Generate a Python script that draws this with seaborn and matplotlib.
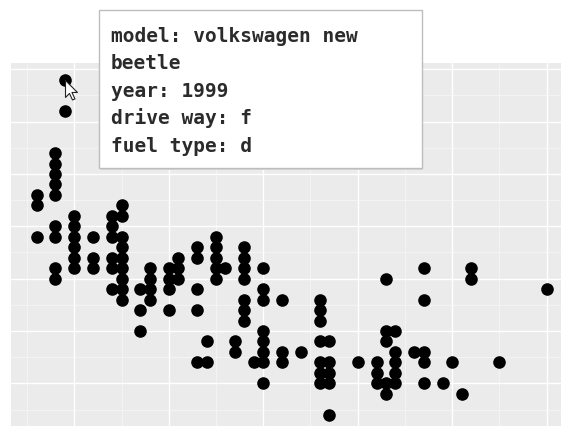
import numpy as np
import pandas as pd
import seaborn as sns
import matplotlib.pyplot as plt
from matplotlib.path import Path
from matplotlib.patches import Rectangle

# engine displacement (litres) and highway mpg, one entry per visible dot
displ = [1.6, 1.6, 1.6,
         1.8, 1.8, 1.8, 1.8, 1.8, 1.8, 1.8, 1.8, 1.8,
         1.9, 1.9,
         2.0, 2.0, 2.0, 2.0, 2.0, 2.0,
         2.2, 2.2, 2.2,
         2.4, 2.4, 2.4, 2.4, 2.4, 2.4,
         2.5, 2.5, 2.5, 2.5, 2.5, 2.5, 2.5, 2.5, 2.5,
         2.7, 2.7, 2.7,
         2.8, 2.8, 2.8, 2.8,
         3.0, 3.0, 3.0, 3.0,
         3.1, 3.1, 3.1,
         3.3, 3.3, 3.3, 3.3, 3.3,
         3.4, 3.4,
         3.5, 3.5, 3.5, 3.5, 3.5,
         3.6,
         3.7, 3.7,
         3.8, 3.8, 3.8, 3.8, 3.8, 3.8, 3.8,
         3.9,
         4.0, 4.0, 4.0, 4.0, 4.0, 4.0, 4.0, 4.0,
         4.2, 4.2, 4.2,
         4.4,
         4.6, 4.6, 4.6, 4.6, 4.6, 4.6, 4.6,
         4.7, 4.7, 4.7, 4.7, 4.7,
         5.0,
         5.2, 5.2, 5.2,
         5.3, 5.3, 5.3, 5.3, 5.3,
         5.4, 5.4, 5.4, 5.4, 5.4,
         5.6,
         5.7, 5.7, 5.7, 5.7, 5.7,
         5.9, 6.0, 6.1,
         6.2, 6.2,
         6.5, 7.0]
hwy = [33, 32, 29,
       37, 36, 35, 34, 33, 30, 29, 26, 25,
       44, 41,
       31, 30, 29, 28, 27, 26,
       29, 27, 26,
       31, 30, 29, 27, 26, 24,
       32, 31, 29, 28, 27, 26, 25, 24, 23,
       24, 22, 20,
       26, 25, 24, 23,
       26, 25, 24, 22,
       27, 26, 25,
       28, 27, 24, 22, 17,
       19, 17,
       29, 28, 27, 26, 25,
       26,
       19, 18,
       28, 27, 26, 25, 23, 22, 21,
       17,
       26, 24, 23, 20, 19, 18, 17, 15,
       23, 18, 17,
       18,
       23, 22, 21, 19, 17, 16, 15,
       19, 17, 16, 15, 12,
       17,
       17, 16, 15,
       25, 20, 19, 15, 14,
       20, 18, 17, 16, 15,
       18,
       26, 23, 18, 17, 15,
       15, 17, 14,
       26, 25,
       17, 24]

# hovered car shown in the tooltip
hover_model = "volkswagen new beetle"
hover_year = 1999
hover_drv = "f"
hover_fuel = "d"
hover_displ = 1.9
hover_hwy = 44

df = pd.DataFrame({"displ": displ, "hwy": hwy})

sns.set_style("darkgrid", {"axes.facecolor": "#EBEBEB", "grid.color": "white"})

W, H = 561, 427
fig = plt.figure(figsize=(W / 100, H / 100), dpi=100)

# ggplot-like 5% expansion of the data range
x0, x1 = df.displ.min(), df.displ.max()
y0, y1 = df.hwy.min(), df.hwy.max()
xpad, ypad = 0.05 * (x1 - x0), 0.05 * (y1 - y0)

# panel is cropped by the screenshot on the right and bottom
left_px, top_px = 11, 64
w_px, h_px = 561, 368.5
ax = fig.add_axes([left_px / W, 1 - (top_px + h_px) / H, w_px / W, h_px / H])

sns.scatterplot(data=df, x="displ", y="hwy", color="black", s=82,
                linewidth=0, ax=ax, zorder=3)

ax.set_xlim(x0 - xpad, x1 + xpad)
ax.set_ylim(y0 - ypad, y1 + ypad)
ax.set_xticks(np.arange(2, 8, 1))
ax.set_xticks(np.arange(1.5, 7.5, 1), minor=True)
ax.set_yticks(np.arange(15, 50, 5))
ax.set_yticks(np.arange(12.5, 47.5, 5), minor=True)
ax.grid(which="major", color="white", linewidth=1.0)
ax.grid(which="minor", color="#f7f7f7", linewidth=0.5)
ax.tick_params(which="both", length=0, labelbottom=False, labelleft=False)
ax.set_xlabel("")
ax.set_ylabel("")
for s in ax.spines.values():
    s.set_visible(False)

# mouse pointer on the hovered point
cursor = Path([(0, 0), (0, -17), (4, -13), (7, -19.5), (9.5, -18.5),
               (6.5, -12), (12, -12), (0, 0)],
              [Path.MOVETO] + [Path.LINETO] * 6 + [Path.CLOSEPOLY])
ax.plot([hover_displ], [hover_hwy], marker=cursor, markersize=28,
        markerfacecolor="white", markeredgecolor="#222222",
        markeredgewidth=0.8, linestyle="none", zorder=5)

# tooltip box
bx0, bx1, by0, by1 = 99, 422, 11, 169
fig.add_artist(Rectangle(((bx0 + 1.5) / W, 1 - (by1 + 1.5) / H),
                         (bx1 - bx0) / W, (by1 - by0) / H,
                         transform=fig.transFigure, facecolor="#d6d6d6",
                         edgecolor="none", zorder=9))
fig.add_artist(Rectangle((bx0 / W, 1 - by1 / H), (bx1 - bx0) / W,
                         (by1 - by0) / H, transform=fig.transFigure,
                         facecolor="white", edgecolor="#bdbdbd",
                         linewidth=1, zorder=10))

lines = ["model: volkswagen new", hover_model.split()[-1],
         f"year: {hover_year}", f"drive way: {hover_drv}",
         f"fuel type: {hover_fuel}"]
for i, line in enumerate(lines):
    yb = 41.7 + 27.5 * i
    fig.text(111 / W, 1 - yb / H, line, ha="left", va="baseline",
             family=["DejaVu Sans Mono"], weight="bold", size=14,
             color="#2b2b2b", zorder=11)

fig.savefig("out.png", dpi=100)
